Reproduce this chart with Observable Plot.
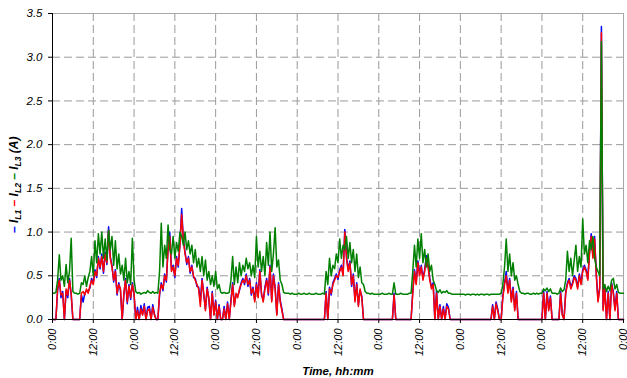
<!DOCTYPE html>
<html><head><meta charset="utf-8">
<script src="https://cdn.jsdelivr.net/npm/d3@7"></script>
<script src="https://cdn.jsdelivr.net/npm/@observablehq/plot@0.6"></script>
<style>body{margin:0;background:#fff;} #chart{width:627px;height:378px;}</style>
</head><body><div id="chart"></div>
<script>
// sampling interval of the series, hours
const stepHours = 0.5;
const xTicks = [0,12,24,36,48,60,72,84,96,108,120,132,144,156,168];
const xTickLabels = ["0:00","12:00","0:00","12:00","0:00","12:00","0:00","12:00","0:00","12:00","0:00","12:00","0:00","12:00","0:00"];
const yTicks = [0,0.5,1.0,1.5,2.0,2.5,3.0,3.5];
const seriesNames = ["IL1","IL2","IL3"];

// I_L3 (green)
const iL3 = [
0.30,0.30,0.31,0.45,0.74,0.45,0.50,0.38,0.63,0.42,0.55,0.93,0.32,0.30,0.30,0.29,0.30,0.42,0.40,0.50,0.38,0.48,0.55,0.72,
0.50,0.90,0.65,0.98,0.75,1.00,0.70,0.92,0.68,1.02,0.80,0.95,0.62,0.90,0.58,0.75,0.52,0.62,0.45,0.70,0.42,0.55,0.40,0.93,
0.45,0.32,0.30,0.31,0.29,0.30,0.31,0.30,0.33,0.31,0.30,0.32,0.30,0.31,0.30,0.55,1.10,0.60,0.85,0.70,1.08,0.80,0.75,0.95,
0.70,0.88,0.78,1.00,0.95,0.85,1.00,0.80,0.90,0.75,0.85,0.65,0.80,0.60,0.70,0.55,0.72,0.50,0.68,0.45,0.55,0.40,0.50,0.38,
0.55,0.35,0.40,0.31,0.30,0.31,0.30,0.30,0.31,0.45,0.72,0.40,0.60,0.42,0.65,0.50,0.62,0.55,0.70,0.58,0.65,0.50,0.62,0.48,
0.95,0.60,0.78,0.55,0.72,0.50,0.88,0.62,1.00,0.55,0.75,1.05,0.60,0.68,0.45,0.40,0.31,0.30,0.30,0.30,0.29,0.30,0.29,0.29,
0.29,0.30,0.29,0.29,0.30,0.29,0.29,0.30,0.29,0.29,0.29,0.30,0.29,0.29,0.29,0.30,0.29,0.55,0.40,0.70,0.50,0.62,0.58,0.75,
0.65,0.92,0.70,0.85,0.80,0.95,0.70,0.88,0.65,0.80,0.55,0.75,0.48,0.60,0.42,0.40,0.32,0.30,0.30,0.29,0.30,0.29,0.29,0.29,
0.29,0.29,0.30,0.29,0.29,0.29,0.30,0.29,0.29,0.42,0.29,0.29,0.29,0.30,0.29,0.29,0.29,0.29,0.30,0.30,0.55,0.85,0.60,0.92,
0.70,0.98,0.65,0.80,0.60,0.75,0.55,0.62,0.45,0.40,0.33,0.31,0.34,0.30,0.32,0.31,0.33,0.30,0.30,0.29,0.29,0.29,0.29,0.29,
0.29,0.29,0.29,0.28,0.29,0.29,0.28,0.29,0.29,0.28,0.29,0.28,0.29,0.29,0.28,0.29,0.29,0.28,0.29,0.29,0.29,0.29,0.29,0.29,
0.30,0.40,0.60,0.92,0.55,0.75,0.50,0.65,0.45,0.50,0.40,0.32,0.30,0.30,0.29,0.30,0.30,0.29,0.29,0.30,0.29,0.30,0.29,0.30,
0.30,0.35,0.33,0.36,0.32,0.35,0.30,0.30,0.30,0.29,0.30,0.36,0.32,0.34,0.45,0.78,0.55,0.70,0.50,0.68,0.85,0.55,0.72,0.60,
1.15,0.75,0.85,0.65,0.90,0.80,0.95,0.70,0.60,0.55,0.50,3.18,0.35,0.40,0.32,0.38,0.33,0.45,0.47,0.35,0.40,0.31,0.30,0.30,0.30
];

// I_L2 (red)
const iL2 = [
0,0,0,0.35,0.45,0.28,0.30,0,0.35,0.28,0.45,0.30,0,0,0,0,0,0.30,0.32,0.28,0.35,0.30,0.38,0.45,
0.40,0.55,0.50,0.70,0.60,0.72,0.55,0.75,0.65,1.02,0.70,0.60,0.45,0.55,0.30,0.40,0.35,0,0.30,0.45,0.20,0.38,0.25,0.40,
0.30,0,0.10,0,0.12,0.05,0.15,0,0.10,0.12,0,0.14,0.05,0,0,0.30,0.40,0.35,0.50,0.45,0.80,0.95,0.55,0.60,
0.50,0.70,0.62,0.85,1.20,0.90,0.75,0.65,0.70,0.55,0.60,0.50,0.45,0.40,0.35,0.15,0.45,0.30,0.10,0.35,0.25,0,0.30,0.05,
0.20,0,0.15,0,0,0.12,0,0.18,0,0.20,0.40,0.15,0.30,0.25,0.35,0.40,0.45,0.42,0.50,0.40,0.45,0.30,0.35,0.20,
0.40,0.25,0.55,0.30,0.20,0.35,0.45,0.30,0.60,0.20,0.50,0.35,0.05,0.40,0.20,0.10,0,0,0,0,0,0,0,0,
0,0,0,0,0,0,0,0,0,0,0,0,0,0,0,0,0,0.30,0,0.35,0.30,0.40,0.45,0.50,
0.48,0.55,0.60,0.50,1.00,0.70,0.55,0.65,0.40,0.50,0.20,0.40,0.15,0.35,0.25,0,0,0,0,0,0,0,0,0,
0,0,0,0,0,0,0,0,0,0.28,0,0,0,0,0,0,0,0,0,0,0.30,0.55,0.40,0.65,
0.50,0.60,0.45,0.55,0.70,0.60,0.45,0.35,0.40,0,0.30,0,0.15,0,0.12,0,0.15,0.12,0,0,0,0,0,0,
0,0,0,0,0,0,0,0,0,0,0,0,0,0,0,0,0,0,0,0.15,0,0.18,0.10,0,
0,0.25,0.40,0.50,0.30,0.45,0.20,0.35,0.10,0.30,0,0,0,0,0,0,0,0,0,0,0,0,0,0,
0,0.30,0,0.30,0.10,0.25,0,0,0,0,0,0.30,0.05,0,0.30,0.40,0.45,0.35,0.40,0.48,0.45,0.35,0.50,0.40,
0.55,0.60,0.55,0.45,0.75,0.95,0.70,0.92,0.50,0.20,0.35,3.28,0.10,0.35,0,0.30,0,0.40,0.30,0.10,0.30,0,0,0,0
];

// I_L1 (blue)
const iL1 = [
0,0,0,0.33,0.47,0.25,0.32,0,0.33,0.25,0.47,0.28,0,0,0,0,0,0.28,0.20,0.30,0.33,0.32,0.36,0.47,
0.42,0.57,0.48,0.72,0.58,0.75,0.53,0.77,0.63,1.06,0.72,0.62,0.43,0.57,0.28,0.42,0.33,0,0.28,0.47,0.18,0.40,0.23,0.42,
0.28,0,0.14,0,0.16,0.06,0.18,0,0.14,0.15,0,0.17,0.06,0,0,0.28,0.42,0.33,0.52,0.43,0.82,1.00,0.57,0.62,
0.48,0.72,0.60,0.87,1.27,0.92,0.77,0.63,0.72,0.53,0.62,0.48,0.47,0.38,0.37,0.20,0.47,0.28,0.12,0.37,0.23,0,0.32,0.06,
0.22,0,0.17,0,0,0.15,0,0.20,0,0.22,0.42,0.17,0.28,0.27,0.33,0.42,0.47,0.40,0.52,0.38,0.47,0.28,0.37,0.22,
0.42,0.27,0.57,0.28,0.22,0.37,0.47,0.28,0.62,0.22,0.52,0.37,0.06,0.42,0.22,0.12,0,0,0,0,0,0,0,0,
0,0,0,0,0,0,0,0,0,0,0,0,0,0,0,0,0,0.32,0,0.37,0.28,0.42,0.47,0.52,
0.46,0.57,0.62,0.52,1.03,0.72,0.57,0.67,0.38,0.52,0.22,0.42,0.17,0.33,0.27,0,0,0,0,0,0,0,0,0,
0,0,0,0,0,0,0,0,0,0.30,0,0,0,0,0,0,0,0,0,0,0.32,0.57,0.42,0.67,
0.52,0.62,0.47,0.57,0.73,0.62,0.47,0.37,0.42,0,0.33,0,0.17,0,0.15,0,0.18,0.14,0,0,0,0,0,0,
0,0,0,0,0,0,0,0,0,0,0,0,0,0,0,0,0,0,0,0.17,0,0.20,0.12,0,
0,0.27,0.42,0.55,0.32,0.47,0.22,0.37,0.12,0.32,0,0,0,0,0,0,0,0,0,0,0,0,0,0,
0,0.33,0,0.32,0.12,0.27,0,0,0,0,0,0.32,0.06,0,0.32,0.42,0.47,0.37,0.42,0.50,0.47,0.37,0.52,0.42,
0.57,0.62,0.57,0.47,0.77,0.98,0.72,0.95,0.52,0.22,0.37,3.35,0.12,0.37,0,0.32,0,0.42,0.32,0.12,0.32,0,0,0,0
];

const colors = {IL1: "#0000ff", IL2: "#ff0000", IL3: "#008000"};
const toRows = (vals, name) => vals.map((v, i) => ({t: i * stepHours, v, name}));
const rowsL1 = toRows(iL1, "IL1");
const rowsL2 = toRows(iL2, "IL2");
const rowsL3 = toRows(iL3, "IL3");

const FONT = "'Liberation Sans', Arial, Helvetica, sans-serif";
const gridStyle = {stroke: "#9a9a9a", strokeOpacity: 1, strokeDasharray: "8,4", strokeWidth: 1};

const svg = Plot.plot({
  width: 627, height: 378,
  marginLeft: 52, marginRight: 4, marginTop: 13, marginBottom: 59,
  x: {domain: [0, 168]},
  y: {domain: [0, 3.5]},
  style: {fontFamily: FONT, fontSize: "11px", fontStyle: "italic", color: "#000", background: "#fff", overflow: "visible"},
  marks: [
    Plot.gridX(xTicks, gridStyle),
    Plot.gridY(yTicks, gridStyle),
    Plot.frame({stroke: "#a8a8a8"}),
    Plot.line(rowsL1, {x: "t", y: "v", stroke: colors.IL1, strokeWidth: 1.5}),
    Plot.line(rowsL2, {x: "t", y: "v", stroke: colors.IL2, strokeWidth: 1.5}),
    Plot.line(rowsL3, {x: "t", y: "v", stroke: colors.IL3, strokeWidth: 1.5}),
    Plot.ruleX([0], {stroke: "#000"}),
    Plot.ruleY([0], {stroke: "#000"}),
    Plot.axisX(xTicks, {tickFormat: d => xTickLabels[xTicks.indexOf(d)], tickRotate: -90, tickSize: 4, tickPadding: 5, label: null, fontSize: 11}),
    Plot.axisY(yTicks, {tickFormat: d3.format(".1f"), tickSize: 4, tickPadding: 6, label: null, fontSize: 11.5})
  ]
});
document.getElementById("chart").appendChild(svg);

// y-axis label with coloured series markers
const yl = d3.select(svg).append("text")
  .attr("transform", "translate(18,233) rotate(-90)")
  .attr("text-anchor", "start")
  .attr("font-family", FONT).attr("font-weight", "bold").attr("font-style", "italic")
  .attr("font-size", 12).attr("fill", "#000");
const parts = [
  {t: "\u2013 ", fill: colors.IL1}, {t: "I"}, {t: "L1", sub: true},
  {t: " \u2013 ", fill: colors.IL2, up: true}, {t: "I"}, {t: "L2", sub: true},
  {t: " \u2013 ", fill: colors.IL3, up: true}, {t: "I"}, {t: "L3", sub: true},
  {t: " (A)", up: true}
];
for (const p of parts) {
  const ts = yl.append("tspan").text(p.t);
  if (p.fill) ts.attr("fill", p.fill);
  if (p.sub) ts.attr("dy", 3).attr("font-size", 8.5);
  if (p.up) ts.attr("dy", -3);
}

// x-axis title
d3.select(svg).append("text")
  .attr("x", 338).attr("y", 375).attr("text-anchor", "middle")
  .attr("font-family", FONT).attr("font-weight", "bold").attr("font-style", "italic")
  .attr("font-size", 11.5).attr("fill", "#000")
  .text("Time, hh:mm");
</script>
</body></html>
